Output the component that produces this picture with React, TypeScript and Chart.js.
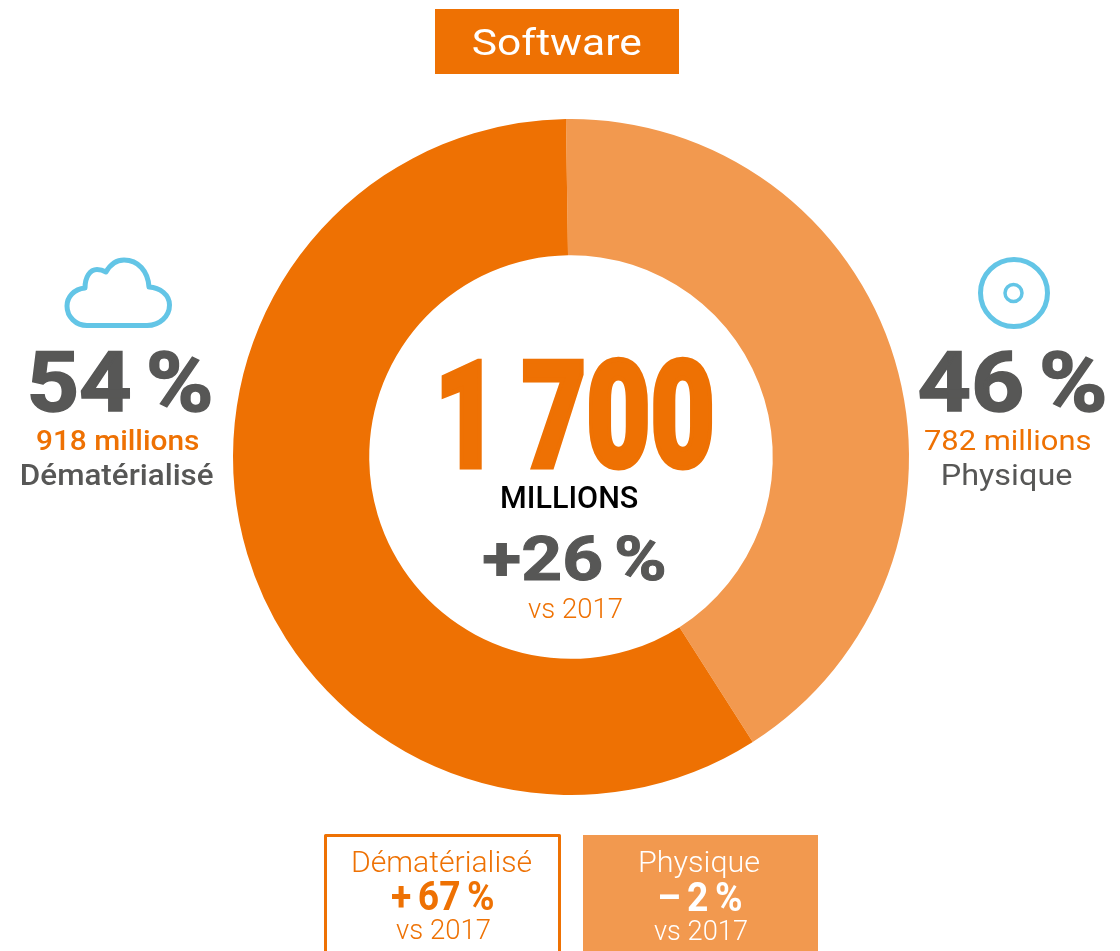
import React, { useEffect, useRef } from "react";
import { Chart, registerables } from "chart.js";

Chart.register(...registerables);

const categories = ["Physique", "Dématérialisé"];
const drawnShares = [41.2, 58.8];
const sliceColors = ["#F2994F", "#EE7103"];
const title = "Software";
const total = "1 700";
const totalUnit = "MILLIONS";
const totalChange = "+26 %";
const comparison = "vs 2017";
const shareLabels = ["46 %", "54 %"];
const amountLabels = ["782 millions", "918 millions"];
const changeLabels = ["– 2 %", "+ 67 %"];

const ORANGE = "#EE7103";
const LIGHT = "#F2994F";
const GRAY = "#575756";
const BLUE = "#63C5E6";
const FAMILY = "Roboto, sans-serif";

function fit(
  ctx: CanvasRenderingContext2D,
  text: string,
  x0: number,
  x1: number,
  baseline: number,
  font: string,
  color: string,
  wordSpacing = 0,
  bold = 0,
) {
  ctx.save();
  ctx.font = `${font} ${FAMILY}`;
  (ctx as any).wordSpacing = `${wordSpacing}px`;
  ctx.fillStyle = color;
  ctx.strokeStyle = color;
  ctx.textAlign = "left";
  ctx.textBaseline = "alphabetic";
  const m = ctx.measureText(text);
  const ink = m.actualBoundingBoxLeft + m.actualBoundingBoxRight;
  const sx = (x1 - x0 - bold) / ink;
  ctx.translate(x0 + bold / 2, baseline - bold / 2);
  ctx.scale(sx, 1);
  ctx.fillText(text, m.actualBoundingBoxLeft, 0);
  if (bold > 0) {
    ctx.lineWidth = bold;
    ctx.lineJoin = "miter";
    ctx.miterLimit = 3;
    ctx.strokeText(text, m.actualBoundingBoxLeft, 0);
  }
  ctx.restore();
}

const overlay = {
  id: "overlay",
  afterDraw(chart: Chart) {
    const ctx = chart.ctx;
    ctx.save();
    // title
    ctx.fillStyle = ORANGE;
    ctx.fillRect(435, 9, 244, 65);
    fit(ctx, title, 473, 641, 55, "400 37px", "#FFFFFF");

    // cloud icon
    ctx.strokeStyle = BLUE;
    ctx.lineWidth = 5;
    ctx.lineJoin = "round";
    ctx.stroke(new Path2D("M87 325.5H147C160 325.5 169.5 316 169.5 305C169.5 295 160 287.5 149 287C148 271 138 260 124 260C116 260 110 265 106 272C102.5 270 100 269.5 97 269.5C90 269.5 85 277 85 288C74 289 67 297 67 306C67 317 76 325.5 87 325.5Z"));

    // disc icon
    ctx.beginPath();
    ctx.arc(1014, 293, 33.5, 0, Math.PI * 2);
    ctx.stroke();
    ctx.lineWidth = 3.5;
    ctx.beginPath();
    ctx.arc(1013.5, 293, 8.5, 0, Math.PI * 2);
    ctx.stroke();

    // left block
    fit(ctx, shareLabels[1], 30, 211, 412, "700 84px", GRAY, -8, 1.5);
    fit(ctx, amountLabels[1], 37, 199, 450, "500 28px", ORANGE);
    fit(ctx, categories[1], 22, 213, 485, "500 29px", GRAY);

    // right block
    fit(ctx, shareLabels[0], 919, 1105, 412, "700 84px", GRAY, -8, 1.5);
    fit(ctx, amountLabels[0], 925, 1091, 450, "400 28px", ORANGE);
    fit(ctx, categories[0], 943, 1072, 485, "400 29px", GRAY);

    // centre
    fit(ctx, total, 441, 713, 469, "900 148px", ORANGE, -6, 5);
    fit(ctx, totalUnit, 502, 638, 508, "500 32px", "#000000");
    fit(ctx, totalChange, 483, 665, 580, "700 62px", GRAY, -6, 1);
    fit(ctx, comparison, 528, 622, 618, "300 27px", ORANGE);

    // bottom boxes
    ctx.strokeStyle = ORANGE;
    ctx.lineWidth = 3;
    ctx.strokeRect(325.5, 835.5, 234, 130);
    ctx.fillStyle = LIGHT;
    ctx.fillRect(583, 835, 235, 116);

    fit(ctx, categories[1], 353, 531, 872, "300 29px", ORANGE);
    fit(ctx, changeLabels[1], 392, 493, 910, "700 40px", ORANGE, -3);
    fit(ctx, comparison, 396, 490, 939, "300 27px", ORANGE);

    fit(ctx, categories[0], 640, 759, 872, "300 29px", "#FFFFFF");
    fit(ctx, changeLabels[0], 659, 741, 911, "700 40px", "#FFFFFF", -3);
    fit(ctx, comparison, 654, 747, 940, "300 27px", "#FFFFFF");
    ctx.restore();
  },
};

export default function App() {
  const ref = useRef<HTMLCanvasElement>(null);
  useEffect(() => {
    const chart = new Chart(ref.current!, {
      type: "doughnut",
      data: {
        labels: categories,
        datasets: [{ data: drawnShares, backgroundColor: sliceColors, borderWidth: 0 }],
      },
      options: {
        responsive: false,
        animation: false,
        rotation: -0.85,
        cutout: "59.7%",
        layout: { padding: { left: 233, right: 211, top: 119, bottom: 156 } },
        plugins: { legend: { display: false }, tooltip: { enabled: false } },
      },
      plugins: [overlay],
    });
    return () => chart.destroy();
  }, []);
  return (
    <canvas
      ref={ref}
      width={1120}
      height={951}
      style={{ position: "fixed", left: 0, top: 0, width: 1120, height: 951, background: "#FFFFFF" }}
    />
  );
}
